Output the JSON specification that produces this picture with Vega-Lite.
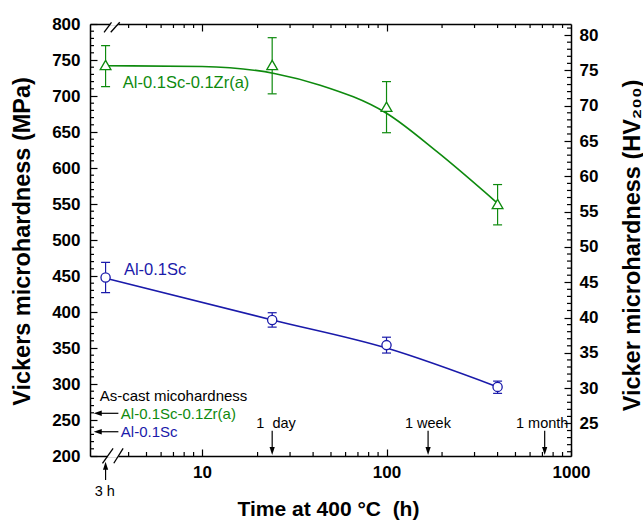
{
  "$schema": "https://vega.github.io/schema/vega-lite/v6.json",
  "autosize": {"type": "none"},
  "padding": {"left": 90, "top": 24, "right": 72, "bottom": 67},
  "width": 481,
  "height": 432,
  "config": {
    "view": {"stroke": null},
    "font": "Liberation Sans",
    "axis": {"grid": false, "labelFlush": false, "labelOverlap": false, "domainColor": "black", "domainWidth": 1.5, "labelColor": "black", "titleColor": "black", "labelFontSize": 17, "labelFontWeight": "bold", "labelFont": "Liberation Sans", "titleFont": "Liberation Sans"}
  },
  "datasets": {
    "pts": [
      {"alloy": "Zr", "t": 3, "v": 743, "lo": 713, "hi": 770},
      {"alloy": "Zr", "t": 24, "v": 743, "lo": 703, "hi": 781},
      {"alloy": "Zr", "t": 100, "v": 685, "lo": 649, "hi": 720},
      {"alloy": "Zr", "t": 400, "v": 550, "lo": 521, "hi": 577},
      {"alloy": "Sc", "t": 3, "v": 448, "lo": 427, "hi": 469},
      {"alloy": "Sc", "t": 24, "v": 389, "lo": 379, "hi": 399},
      {"alloy": "Sc", "t": 100, "v": 354, "lo": 343, "hi": 365},
      {"alloy": "Sc", "t": 400, "v": 296, "lo": 287, "hi": 304}
    ],
    "curves": [
      {"alloy": "Zr", "t": 3, "v": 742},
      {"alloy": "Zr", "t": 10, "v": 741},
      {"alloy": "Zr", "t": 25, "v": 731},
      {"alloy": "Zr", "t": 43.7, "v": 715},
      {"alloy": "Zr", "t": 100, "v": 676},
      {"alloy": "Zr", "t": 187, "v": 623},
      {"alloy": "Zr", "t": 400, "v": 551},
      {"alloy": "Sc", "t": 3, "v": 447},
      {"alloy": "Sc", "t": 24, "v": 389},
      {"alloy": "Sc", "t": 100, "v": 350},
      {"alloy": "Sc", "t": 400, "v": 296}
    ],
    "xticks": [
      {"t": 4, "k": "minor"}, {"t": 5, "k": "minor"}, {"t": 6, "k": "minor"}, {"t": 7, "k": "minor"}, {"t": 8, "k": "minor"}, {"t": 9, "k": "minor"},
      {"t": 20, "k": "minor"}, {"t": 30, "k": "minor"}, {"t": 40, "k": "minor"}, {"t": 50, "k": "minor"}, {"t": 60, "k": "minor"}, {"t": 70, "k": "minor"}, {"t": 80, "k": "minor"}, {"t": 90, "k": "minor"},
      {"t": 200, "k": "minor"}, {"t": 300, "k": "minor"}, {"t": 400, "k": "minor"}, {"t": 500, "k": "minor"}, {"t": 600, "k": "minor"}, {"t": 700, "k": "minor"}, {"t": 800, "k": "minor"}, {"t": 900, "k": "minor"}
    ],
    "yticks": [
      {"v": 210, "k": "minor"}, {"v": 220, "k": "minor"}, {"v": 230, "k": "minor"}, {"v": 240, "k": "minor"},
      {"v": 260, "k": "minor"}, {"v": 270, "k": "minor"}, {"v": 280, "k": "minor"}, {"v": 290, "k": "minor"},
      {"v": 310, "k": "minor"}, {"v": 320, "k": "minor"}, {"v": 330, "k": "minor"}, {"v": 340, "k": "minor"},
      {"v": 360, "k": "minor"}, {"v": 370, "k": "minor"}, {"v": 380, "k": "minor"}, {"v": 390, "k": "minor"},
      {"v": 410, "k": "minor"}, {"v": 420, "k": "minor"}, {"v": 430, "k": "minor"}, {"v": 440, "k": "minor"},
      {"v": 460, "k": "minor"}, {"v": 470, "k": "minor"}, {"v": 480, "k": "minor"}, {"v": 490, "k": "minor"},
      {"v": 510, "k": "minor"}, {"v": 520, "k": "minor"}, {"v": 530, "k": "minor"}, {"v": 540, "k": "minor"},
      {"v": 560, "k": "minor"}, {"v": 570, "k": "minor"}, {"v": 580, "k": "minor"}, {"v": 590, "k": "minor"},
      {"v": 610, "k": "minor"}, {"v": 620, "k": "minor"}, {"v": 630, "k": "minor"}, {"v": 640, "k": "minor"},
      {"v": 660, "k": "minor"}, {"v": 670, "k": "minor"}, {"v": 680, "k": "minor"}, {"v": 690, "k": "minor"},
      {"v": 710, "k": "minor"}, {"v": 720, "k": "minor"}, {"v": 730, "k": "minor"}, {"v": 740, "k": "minor"},
      {"v": 760, "k": "minor"}, {"v": 770, "k": "minor"}, {"v": 780, "k": "minor"}, {"v": 790, "k": "minor"}
    ],
    "hticks": [
      {"h": 21, "k": "minor"}, {"h": 22, "k": "minor"}, {"h": 23, "k": "minor"}, {"h": 24, "k": "minor"},
      {"h": 26, "k": "minor"}, {"h": 27, "k": "minor"}, {"h": 28, "k": "minor"}, {"h": 29, "k": "minor"},
      {"h": 31, "k": "minor"}, {"h": 32, "k": "minor"}, {"h": 33, "k": "minor"}, {"h": 34, "k": "minor"},
      {"h": 36, "k": "minor"}, {"h": 37, "k": "minor"}, {"h": 38, "k": "minor"}, {"h": 39, "k": "minor"},
      {"h": 41, "k": "minor"}, {"h": 42, "k": "minor"}, {"h": 43, "k": "minor"}, {"h": 44, "k": "minor"},
      {"h": 46, "k": "minor"}, {"h": 47, "k": "minor"}, {"h": 48, "k": "minor"}, {"h": 49, "k": "minor"},
      {"h": 51, "k": "minor"}, {"h": 52, "k": "minor"}, {"h": 53, "k": "minor"}, {"h": 54, "k": "minor"},
      {"h": 56, "k": "minor"}, {"h": 57, "k": "minor"}, {"h": 58, "k": "minor"}, {"h": 59, "k": "minor"},
      {"h": 61, "k": "minor"}, {"h": 62, "k": "minor"}, {"h": 63, "k": "minor"}, {"h": 64, "k": "minor"},
      {"h": 66, "k": "minor"}, {"h": 67, "k": "minor"}, {"h": 68, "k": "minor"}, {"h": 69, "k": "minor"},
      {"h": 71, "k": "minor"}, {"h": 72, "k": "minor"}, {"h": 73, "k": "minor"}, {"h": 74, "k": "minor"},
      {"h": 76, "k": "minor"}, {"h": 77, "k": "minor"}, {"h": 78, "k": "minor"}, {"h": 79, "k": "minor"},
      {"h": 81, "k": "minor"}
    ],
    "texts": [
      {"label": "Al-0.1Sc-0.1Zr(a)", "kind": "bigZr", "t": 3.72, "v": 718},
      {"label": "Al-0.1Sc", "kind": "bigSc", "t": 3.77, "v": 458},
      {"label": "As-cast micohardness", "kind": "note", "t": 2.79, "v": 283.3},
      {"label": "Al-0.1Sc-0.1Zr(a)", "kind": "noteZr", "t": 3.63, "v": 259},
      {"label": "Al-0.1Sc", "kind": "noteSc", "t": 3.63, "v": 233.5},
      {"label": "1 \u00a0day", "kind": "time", "t": 25.2, "v": 244.4},
      {"label": "1 week", "kind": "time", "t": 167.7, "v": 244.4},
      {"label": "1 month", "kind": "time", "t": 698, "v": 244.4},
      {"label": "3 h", "kind": "time", "t": 2.97, "v": 150.4}
    ],
    "arrows": [
      {"t": 2.72, "t2": 3.52, "v": 259.3, "v2": 259.3},
      {"t": 2.72, "t2": 3.52, "v": 233.7, "v2": 233.7},
      {"t": 24, "t2": 24, "v": 235, "v2": 207},
      {"t": 168, "t2": 168, "v": 235, "v2": 207},
      {"t": 720, "t2": 720, "v": 235, "v2": 207},
      {"t": 3, "t2": 3, "v": 186.5, "v2": 166.7}
    ],
    "heads": [
      {"t": 2.72, "v": 259.3, "dir": "left"},
      {"t": 2.72, "v": 233.7, "dir": "left"},
      {"t": 24, "v": 206.9, "dir": "down"},
      {"t": 168, "v": 206.9, "dir": "down"},
      {"t": 720, "v": 206.9, "dir": "down"},
      {"t": 3, "v": 186.5, "dir": "up"}
    ],
    "gaps": [
      {"t": 3.18, "t2": 3.52, "v": 800, "v2": 800},
      {"t": 3.08, "t2": 3.52, "v": 200, "v2": 200}
    ],
    "slashes": [
      {"t": 2.944, "t2": 3.23, "v": 788.5, "v2": 802.4},
      {"t": 3.2, "t2": 3.58, "v": 788.5, "v2": 802.4},
      {"t": 2.886, "t2": 3.296, "v": 189.9, "v2": 210.7},
      {"t": 3.325, "t2": 3.735, "v": 189.9, "v2": 210.7}
    ]
  },
  "resolve": {
    "scale": {"x": "independent", "y": "independent"},
    "axis": {"x": "independent", "y": "independent"}
  },
  "layer": [
    {
      "data": {"values": [{}]},
      "mark": {"type": "point", "opacity": 0},
      "encoding": {
        "x": {"datum": 10, "type": "quantitative", "scale": {"type": "log", "domain": [2.47, 1000], "nice": false},
          "axis": {"orient": "bottom", "values": [10, 100, 1000], "format": "d", "ticks": true, "tickSize": -7, "tickColor": "black", "tickWidth": 1.2, "labelPadding": 15, "domain": true,
            "title": "Time at 400 °C \u00a0(h)", "titleFontSize": 21, "titleFontWeight": "bold", "titleX": 238, "titleY": 53, "titleBaseline": "middle", "titleAlign": "center"}},
        "y": {"datum": 500, "type": "quantitative", "scale": {"domain": [200, 800], "nice": false, "zero": false},
          "axis": {"orient": "left", "values": [200, 250, 300, 350, 400, 450, 500, 550, 600, 650, 700, 750, 800], "ticks": true, "tickSize": -7, "tickColor": "black", "tickWidth": 1.2, "labelPadding": 17, "domain": true,
            "title": "Vickers microhardness (MPa)", "titleFontSize": 23.5, "titleFontWeight": "bold", "titleX": -68, "titleY": 217, "titleAngle": 270, "titleBaseline": "middle", "titleAlign": "center"}}
      }
    },
    {
      "data": {"values": [{}]},
      "mark": {"type": "point", "opacity": 0},
      "encoding": {
        "x": {"datum": 10, "type": "quantitative", "scale": {"type": "log", "domain": [2.47, 1000], "nice": false},
          "axis": {"orient": "top", "values": [10, 100], "labels": false, "ticks": true, "tickSize": -7, "tickColor": "black", "tickWidth": 1.2, "domain": true, "title": null}},
        "y": {"datum": 50, "type": "quantitative", "scale": {"domain": [20.394, 81.575], "nice": false, "zero": false},
          "axis": {"orient": "right", "values": [25, 30, 35, 40, 45, 50, 55, 60, 65, 70, 75, 80], "ticks": true, "tickSize": -7, "tickColor": "black", "tickWidth": 1.2, "labelPadding": 15, "domain": true,
            "title": "Vicker microhardness (HV₂₀₀)", "titleFontSize": 23.5, "titleFontWeight": "bold", "titleX": 61, "titleY": 221, "titleAngle": 270, "titleBaseline": "middle", "titleAlign": "center"}}
      }
    },
    {
      "data": {"name": "xticks"},
      "mark": {"type": "tick", "orient": "vertical", "color": "black", "size": 4, "thickness": 1.2, "opacity": 1, "yOffset": -2},
      "encoding": {
        "x": {"field": "t", "type": "quantitative", "scale": {"type": "log", "domain": [2.47, 1000], "nice": false}, "axis": null},
        "y": {"datum": 200, "type": "quantitative", "scale": {"domain": [200, 800], "nice": false, "zero": false}, "axis": null}
      }
    },
    {
      "data": {"name": "xticks"},
      "mark": {"type": "tick", "orient": "vertical", "color": "black", "size": 4, "thickness": 1.2, "opacity": 1, "yOffset": 2},
      "encoding": {
        "x": {"field": "t", "type": "quantitative", "scale": {"type": "log", "domain": [2.47, 1000], "nice": false}, "axis": null},
        "y": {"datum": 800, "type": "quantitative", "scale": {"domain": [200, 800], "nice": false, "zero": false}, "axis": null}
      }
    },
    {
      "data": {"name": "yticks"},
      "mark": {"type": "tick", "orient": "horizontal", "color": "black", "size": 4, "thickness": 1.2, "opacity": 1, "xOffset": 2},
      "encoding": {
        "x": {"datum": 2.47, "type": "quantitative", "scale": {"type": "log", "domain": [2.47, 1000], "nice": false}, "axis": null},
        "y": {"field": "v", "type": "quantitative", "scale": {"domain": [200, 800], "nice": false, "zero": false}, "axis": null}
      }
    },
    {
      "data": {"name": "hticks"},
      "mark": {"type": "tick", "orient": "horizontal", "color": "black", "size": 4, "thickness": 1.2, "opacity": 1, "xOffset": -2},
      "encoding": {
        "x": {"datum": 1000, "type": "quantitative", "scale": {"type": "log", "domain": [2.47, 1000], "nice": false}, "axis": null},
        "y": {"field": "h", "type": "quantitative", "scale": {"domain": [20.394, 81.575], "nice": false, "zero": false}, "axis": null}
      }
    },
    {
      "data": {"name": "gaps"},
      "mark": {"type": "rule", "color": "white", "strokeWidth": 3},
      "encoding": {
        "x": {"field": "t", "type": "quantitative", "scale": {"type": "log", "domain": [2.47, 1000], "nice": false}, "axis": null},
        "x2": {"field": "t2"},
        "y": {"field": "v", "type": "quantitative", "scale": {"domain": [200, 800], "nice": false, "zero": false}, "axis": null},
        "y2": {"field": "v2"}
      }
    },
    {
      "data": {"name": "slashes"},
      "mark": {"type": "rule", "color": "black", "strokeWidth": 1.3},
      "encoding": {
        "x": {"field": "t", "type": "quantitative", "scale": {"type": "log", "domain": [2.47, 1000], "nice": false}, "axis": null},
        "x2": {"field": "t2"},
        "y": {"field": "v", "type": "quantitative", "scale": {"domain": [200, 800], "nice": false, "zero": false}, "axis": null},
        "y2": {"field": "v2"}
      }
    },
    {
      "data": {"name": "pts"},
      "transform": [{"filter": "datum.alloy === 'Zr'"}],
      "mark": {"type": "rule", "color": "#0e8a0e", "strokeWidth": 1.2},
      "encoding": {
        "x": {"field": "t", "type": "quantitative", "scale": {"type": "log", "domain": [2.47, 1000], "nice": false}, "axis": null},
        "y": {"field": "lo", "type": "quantitative", "scale": {"domain": [200, 800], "nice": false, "zero": false}, "axis": null},
        "y2": {"field": "hi"}
      }
    },
    {
      "data": {"name": "pts"},
      "transform": [{"filter": "datum.alloy === 'Sc'"}],
      "mark": {"type": "rule", "color": "#1a1aaa", "strokeWidth": 1.2},
      "encoding": {
        "x": {"field": "t", "type": "quantitative", "scale": {"type": "log", "domain": [2.47, 1000], "nice": false}, "axis": null},
        "y": {"field": "lo", "type": "quantitative", "scale": {"domain": [200, 800], "nice": false, "zero": false}, "axis": null},
        "y2": {"field": "hi"}
      }
    },
    {
      "data": {"name": "pts"},
      "transform": [{"filter": "datum.alloy === 'Zr'"}],
      "mark": {"type": "tick", "orient": "horizontal", "color": "#0e8a0e", "size": 9, "thickness": 1.2, "opacity": 1},
      "encoding": {
        "x": {"field": "t", "type": "quantitative", "scale": {"type": "log", "domain": [2.47, 1000], "nice": false}, "axis": null},
        "y": {"field": "lo", "type": "quantitative", "scale": {"domain": [200, 800], "nice": false, "zero": false}, "axis": null}
      }
    },
    {
      "data": {"name": "pts"},
      "transform": [{"filter": "datum.alloy === 'Zr'"}],
      "mark": {"type": "tick", "orient": "horizontal", "color": "#0e8a0e", "size": 9, "thickness": 1.2, "opacity": 1},
      "encoding": {
        "x": {"field": "t", "type": "quantitative", "scale": {"type": "log", "domain": [2.47, 1000], "nice": false}, "axis": null},
        "y": {"field": "hi", "type": "quantitative", "scale": {"domain": [200, 800], "nice": false, "zero": false}, "axis": null}
      }
    },
    {
      "data": {"name": "pts"},
      "transform": [{"filter": "datum.alloy === 'Sc'"}],
      "mark": {"type": "tick", "orient": "horizontal", "color": "#1a1aaa", "size": 9, "thickness": 1.2, "opacity": 1},
      "encoding": {
        "x": {"field": "t", "type": "quantitative", "scale": {"type": "log", "domain": [2.47, 1000], "nice": false}, "axis": null},
        "y": {"field": "lo", "type": "quantitative", "scale": {"domain": [200, 800], "nice": false, "zero": false}, "axis": null}
      }
    },
    {
      "data": {"name": "pts"},
      "transform": [{"filter": "datum.alloy === 'Sc'"}],
      "mark": {"type": "tick", "orient": "horizontal", "color": "#1a1aaa", "size": 9, "thickness": 1.2, "opacity": 1},
      "encoding": {
        "x": {"field": "t", "type": "quantitative", "scale": {"type": "log", "domain": [2.47, 1000], "nice": false}, "axis": null},
        "y": {"field": "hi", "type": "quantitative", "scale": {"domain": [200, 800], "nice": false, "zero": false}, "axis": null}
      }
    },
    {
      "data": {"name": "curves"},
      "transform": [{"filter": "datum.alloy === 'Zr'"}],
      "mark": {"type": "line", "interpolate": "monotone", "strokeWidth": 1.6, "color": "#0e8a0e"},
      "encoding": {
        "x": {"field": "t", "type": "quantitative", "scale": {"type": "log", "domain": [2.47, 1000], "nice": false}, "axis": null},
        "y": {"field": "v", "type": "quantitative", "scale": {"domain": [200, 800], "nice": false, "zero": false}, "axis": null}
      }
    },
    {
      "data": {"name": "curves"},
      "transform": [{"filter": "datum.alloy === 'Sc'"}],
      "mark": {"type": "line", "interpolate": "monotone", "strokeWidth": 1.6, "color": "#1a1aaa"},
      "encoding": {
        "x": {"field": "t", "type": "quantitative", "scale": {"type": "log", "domain": [2.47, 1000], "nice": false}, "axis": null},
        "y": {"field": "v", "type": "quantitative", "scale": {"domain": [200, 800], "nice": false, "zero": false}, "axis": null}
      }
    },
    {
      "data": {"name": "pts"},
      "transform": [{"filter": "datum.alloy === 'Zr'"}],
      "mark": {"type": "point", "shape": "triangle-up", "size": 115, "filled": false, "fill": "white", "fillOpacity": 1, "stroke": "#0e8a0e", "strokeWidth": 1.3, "opacity": 1},
      "encoding": {
        "x": {"field": "t", "type": "quantitative", "scale": {"type": "log", "domain": [2.47, 1000], "nice": false}, "axis": null},
        "y": {"field": "v", "type": "quantitative", "scale": {"domain": [200, 800], "nice": false, "zero": false}, "axis": null}
      }
    },
    {
      "data": {"name": "pts"},
      "transform": [{"filter": "datum.alloy === 'Sc'"}],
      "mark": {"type": "point", "shape": "circle", "size": 85, "filled": false, "fill": "white", "fillOpacity": 1, "stroke": "#1a1aaa", "strokeWidth": 1.3, "opacity": 1},
      "encoding": {
        "x": {"field": "t", "type": "quantitative", "scale": {"type": "log", "domain": [2.47, 1000], "nice": false}, "axis": null},
        "y": {"field": "v", "type": "quantitative", "scale": {"domain": [200, 800], "nice": false, "zero": false}, "axis": null}
      }
    },
    {
      "data": {"name": "arrows"},
      "mark": {"type": "rule", "color": "black", "strokeWidth": 1.2},
      "encoding": {
        "x": {"field": "t", "type": "quantitative", "scale": {"type": "log", "domain": [2.47, 1000], "nice": false}, "axis": null},
        "x2": {"field": "t2"},
        "y": {"field": "v", "type": "quantitative", "scale": {"domain": [200, 800], "nice": false, "zero": false}, "axis": null},
        "y2": {"field": "v2"}
      }
    },
    {
      "data": {"name": "heads"},
      "transform": [{"filter": "datum.dir === 'left'"}],
      "mark": {"type": "point", "filled": true, "color": "black", "opacity": 1, "size": 64, "strokeWidth": 0, "shape": "M-1,0L1,-0.7L1,0.7Z"},
      "encoding": {
        "x": {"field": "t", "type": "quantitative", "scale": {"type": "log", "domain": [2.47, 1000], "nice": false}, "axis": null},
        "y": {"field": "v", "type": "quantitative", "scale": {"domain": [200, 800], "nice": false, "zero": false}, "axis": null}
      }
    },
    {
      "data": {"name": "heads"},
      "transform": [{"filter": "datum.dir === 'down'"}],
      "mark": {"type": "point", "filled": true, "color": "black", "opacity": 1, "size": 64, "strokeWidth": 0, "shape": "M0,1L-0.65,-1L0.65,-1Z"},
      "encoding": {
        "x": {"field": "t", "type": "quantitative", "scale": {"type": "log", "domain": [2.47, 1000], "nice": false}, "axis": null},
        "y": {"field": "v", "type": "quantitative", "scale": {"domain": [200, 800], "nice": false, "zero": false}, "axis": null}
      }
    },
    {
      "data": {"name": "heads"},
      "transform": [{"filter": "datum.dir === 'up'"}],
      "mark": {"type": "point", "filled": true, "color": "black", "opacity": 1, "size": 64, "strokeWidth": 0, "shape": "M0,-1L-0.65,1L0.65,1Z"},
      "encoding": {
        "x": {"field": "t", "type": "quantitative", "scale": {"type": "log", "domain": [2.47, 1000], "nice": false}, "axis": null},
        "y": {"field": "v", "type": "quantitative", "scale": {"domain": [200, 800], "nice": false, "zero": false}, "axis": null}
      }
    },
    {
      "data": {"name": "texts"},
      "transform": [{"filter": "datum.kind === 'bigZr'"}],
      "mark": {"type": "text", "align": "left", "baseline": "middle", "fontSize": 16.5, "font": "Liberation Sans", "color": "#0e8a0e"},
      "encoding": {
        "x": {"field": "t", "type": "quantitative", "scale": {"type": "log", "domain": [2.47, 1000], "nice": false}, "axis": null},
        "y": {"field": "v", "type": "quantitative", "scale": {"domain": [200, 800], "nice": false, "zero": false}, "axis": null},
        "text": {"field": "label"}
      }
    },
    {
      "data": {"name": "texts"},
      "transform": [{"filter": "datum.kind === 'bigSc'"}],
      "mark": {"type": "text", "align": "left", "baseline": "middle", "fontSize": 16.5, "font": "Liberation Sans", "color": "#1a1aaa"},
      "encoding": {
        "x": {"field": "t", "type": "quantitative", "scale": {"type": "log", "domain": [2.47, 1000], "nice": false}, "axis": null},
        "y": {"field": "v", "type": "quantitative", "scale": {"domain": [200, 800], "nice": false, "zero": false}, "axis": null},
        "text": {"field": "label"}
      }
    },
    {
      "data": {"name": "texts"},
      "transform": [{"filter": "datum.kind === 'note'"}],
      "mark": {"type": "text", "align": "left", "baseline": "middle", "fontSize": 15, "font": "Liberation Sans", "color": "black"},
      "encoding": {
        "x": {"field": "t", "type": "quantitative", "scale": {"type": "log", "domain": [2.47, 1000], "nice": false}, "axis": null},
        "y": {"field": "v", "type": "quantitative", "scale": {"domain": [200, 800], "nice": false, "zero": false}, "axis": null},
        "text": {"field": "label"}
      }
    },
    {
      "data": {"name": "texts"},
      "transform": [{"filter": "datum.kind === 'noteZr'"}],
      "mark": {"type": "text", "align": "left", "baseline": "middle", "fontSize": 15, "font": "Liberation Sans", "color": "#0e8a0e"},
      "encoding": {
        "x": {"field": "t", "type": "quantitative", "scale": {"type": "log", "domain": [2.47, 1000], "nice": false}, "axis": null},
        "y": {"field": "v", "type": "quantitative", "scale": {"domain": [200, 800], "nice": false, "zero": false}, "axis": null},
        "text": {"field": "label"}
      }
    },
    {
      "data": {"name": "texts"},
      "transform": [{"filter": "datum.kind === 'noteSc'"}],
      "mark": {"type": "text", "align": "left", "baseline": "middle", "fontSize": 15, "font": "Liberation Sans", "color": "#1a1aaa"},
      "encoding": {
        "x": {"field": "t", "type": "quantitative", "scale": {"type": "log", "domain": [2.47, 1000], "nice": false}, "axis": null},
        "y": {"field": "v", "type": "quantitative", "scale": {"domain": [200, 800], "nice": false, "zero": false}, "axis": null},
        "text": {"field": "label"}
      }
    },
    {
      "data": {"name": "texts"},
      "transform": [{"filter": "datum.kind === 'time'"}],
      "mark": {"type": "text", "align": "center", "baseline": "middle", "fontSize": 14.5, "font": "Liberation Sans", "color": "black"},
      "encoding": {
        "x": {"field": "t", "type": "quantitative", "scale": {"type": "log", "domain": [2.47, 1000], "nice": false}, "axis": null},
        "y": {"field": "v", "type": "quantitative", "scale": {"domain": [200, 800], "nice": false, "zero": false}, "axis": null},
        "text": {"field": "label"}
      }
    }
  ]
}
